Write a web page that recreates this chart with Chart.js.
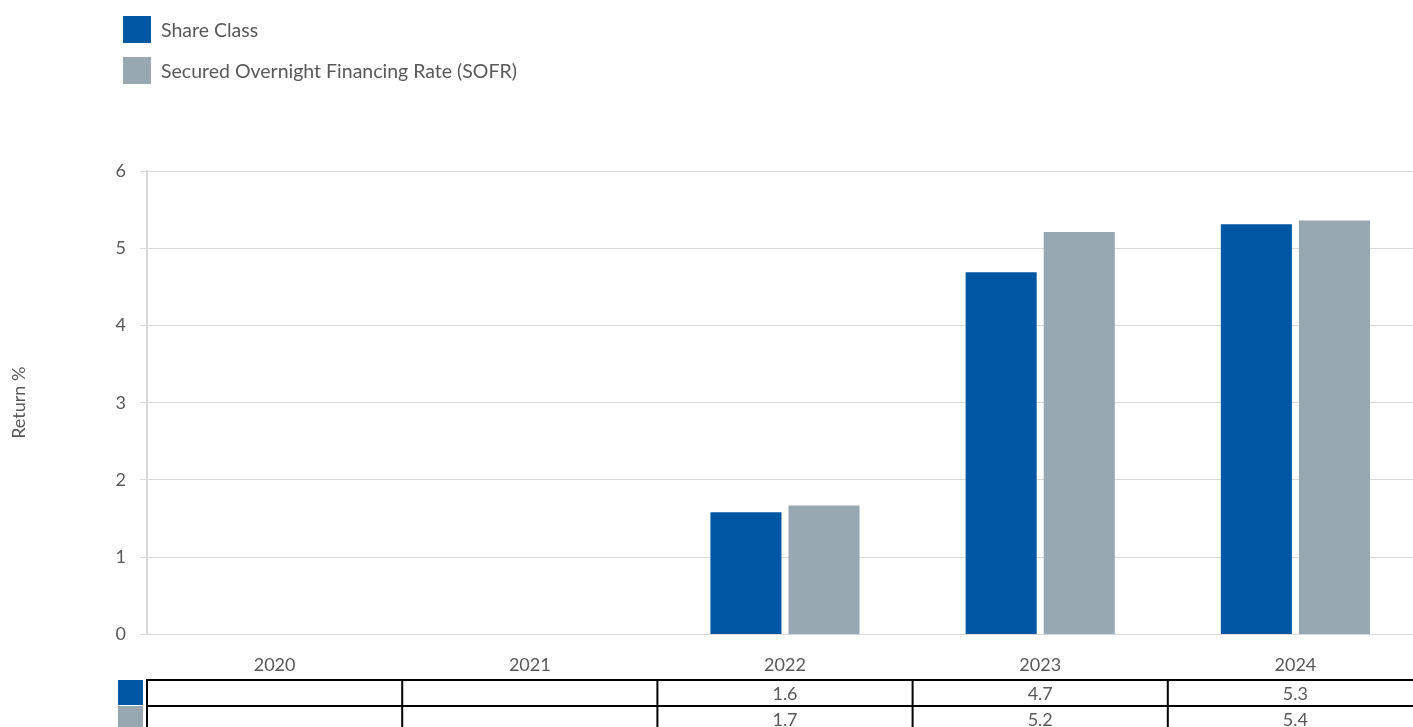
<!DOCTYPE html>
<html>
<head>
<meta charset="utf-8">
<script src="https://cdn.jsdelivr.net/npm/chart.js@4.4.1/dist/chart.umd.min.js"></script>
<style>
  html, body { margin: 0; padding: 0; background: #fff; overflow: hidden; }
  body { width: 1413px; height: 727px; position: relative; font-family: Lato, sans-serif; }
  #wrap { position: absolute; left: 0; top: 0; width: 1423px; height: 727px; }
  .legend { position: absolute; left: 123px; top: 16px; }
  .legend div { height: 27px; margin-bottom: 14px; display: flex; align-items: center; color: #595959; font-size: 19.5px; }
  .legend span { display: inline-block; width: 28px; height: 27px; margin-right: 10px; }
</style>
</head>
<body>
<div id="wrap"><canvas id="returnChart"></canvas></div>
<div class="legend" id="legend"></div>
<script>
const years = ['2020', '2021', '2022', '2023', '2024'];
const shareClass = [null, null, 1.58, 4.69, 5.31];
const sofr = [null, null, 1.67, 5.21, 5.36];
const shareClassTable = ['', '', '1.6', '4.7', '5.3'];
const sofrTable = ['', '', '1.7', '5.2', '5.4'];
const yTicks = [0, 1, 2, 3, 4, 5, 6];

const blue = '#0057a4';
const grey = '#97a8b3';
const textColor = '#595959';
const font = 'Lato, sans-serif';

const seriesNames = ['Share Class', 'Secured Overnight Financing Rate (SOFR)'];
const seriesColors = [blue, grey];

// legend up top
const legend = document.getElementById('legend');
seriesNames.forEach((name, i) => {
  const row = document.createElement('div');
  row.innerHTML = '<span style="background:' + seriesColors[i] + '"></span>' + name;
  legend.appendChild(row);
});

// data table under the x axis
const dataTable = {
  id: 'dataTable',
  afterDraw(chart) {
    const ctx = chart.ctx;
    const x = chart.scales.x;
    const step = x.getPixelForValue(1) - x.getPixelForValue(0);
    const left = x.getPixelForValue(0) - step / 2;
    const right = x.getPixelForValue(years.length - 1) + step / 2;
    const top = 680;
    const rowH = 26;
    const rows = [shareClassTable, sofrTable];

    ctx.save();
    ctx.strokeStyle = '#000';
    ctx.lineWidth = 2;
    for (let r = 0; r <= rows.length; r++) {
      ctx.beginPath();
      ctx.moveTo(left, top + r * rowH);
      ctx.lineTo(right, top + r * rowH);
      ctx.stroke();
    }
    for (let c = 0; c <= years.length; c++) {
      const cx = left + c * step;
      ctx.beginPath();
      ctx.moveTo(cx, top - 1);
      ctx.lineTo(cx, top + rows.length * rowH + 2);
      ctx.stroke();
    }

    ctx.font = '18px ' + font;
    ctx.textAlign = 'center';
    ctx.textBaseline = 'middle';
    rows.forEach((row, r) => {
      ctx.fillStyle = seriesColors[r];
      ctx.fillRect(118, top + r * rowH, 25, rowH - 1);
      ctx.fillStyle = textColor;
      row.forEach((val, i) => {
        ctx.fillText(val, x.getPixelForValue(i), top + r * rowH + rowH / 2 + 1);
      });
    });
    ctx.restore();
  }
};

new Chart(document.getElementById('returnChart'), {
  type: 'bar',
  data: {
    labels: years,
    datasets: [
      { label: seriesNames[0], data: shareClass, backgroundColor: blue, categoryPercentage: 0.612, barPercentage: 0.91 },
      { label: seriesNames[1], data: sofr, backgroundColor: grey, categoryPercentage: 0.612, barPercentage: 0.91 }
    ]
  },
  options: {
    responsive: true,
    maintainAspectRatio: false,
    animation: false,
    layout: { padding: { top: 171, bottom: 31, left: 0, right: 0 } },
    plugins: {
      legend: { display: false },
      tooltip: { enabled: false }
    },
    scales: {
      x: {
        grid: { display: false, drawTicks: false },
        border: { display: false },
        ticks: { color: textColor, font: { family: font, size: 18 }, padding: 20 }
      },
      y: {
        min: 0,
        max: 6,
        afterBuildTicks: (scale) => { scale.ticks = yTicks.map(v => ({ value: v })); },
        afterFit: (scale) => { scale.width = 147; },
        grid: { color: '#d9d9d9', lineWidth: 1, tickLength: 7 },
        border: { color: '#d9d9d9', width: 2 },
        ticks: { color: textColor, font: { family: font, size: 18 }, padding: 14 },
        title: {
          display: true,
          text: 'Return %',
          color: textColor,
          font: { family: font, size: 18 },
          padding: { top: 8, bottom: 0 }
        }
      }
    }
  },
  plugins: [dataTable]
});
</script>
</body>
</html>
